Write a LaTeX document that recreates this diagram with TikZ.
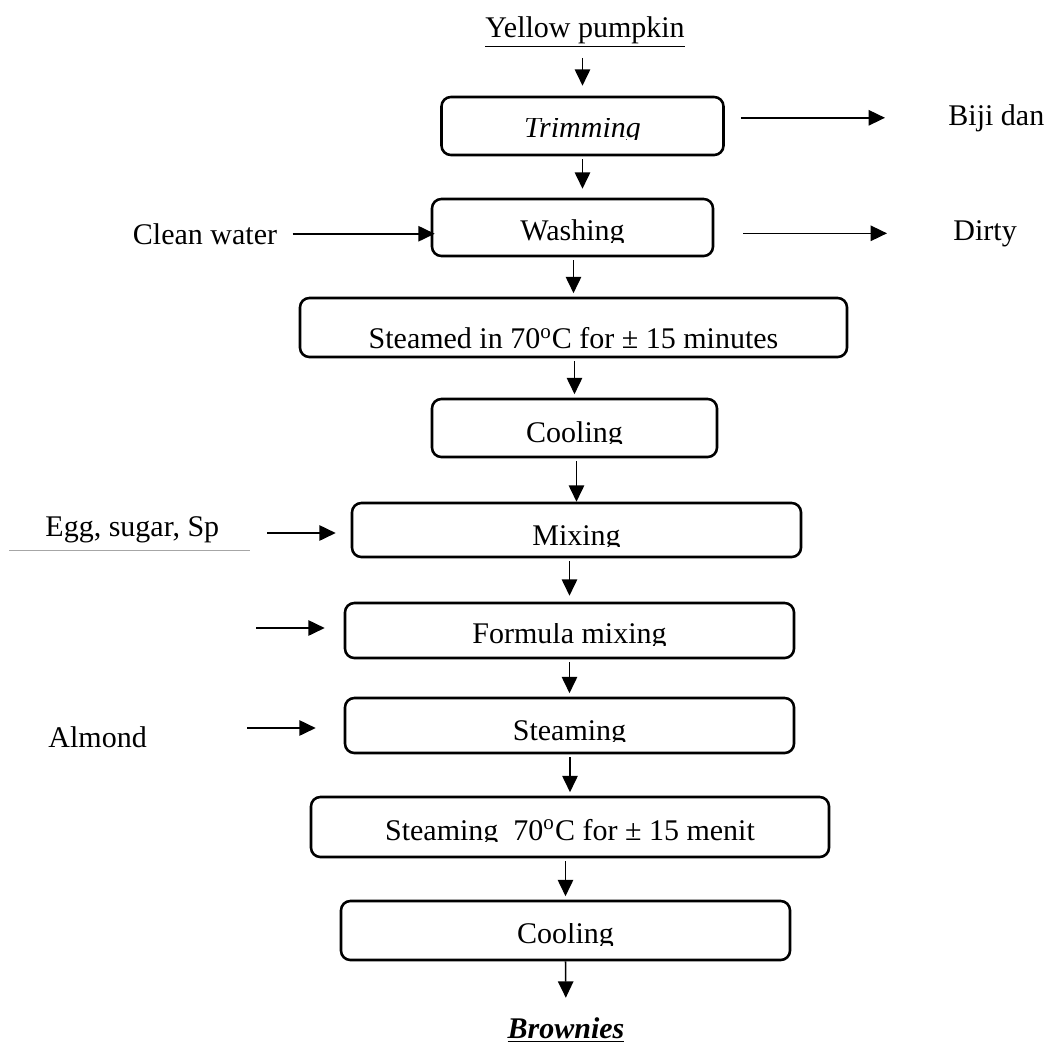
\documentclass[tikz,border=0pt]{standalone}
\usepackage{fontspec}
\setmainfont{Liberation Serif}
\usepackage{adjustbox}
\usetikzlibrary{arrows.meta}
\newcommand{\cutoff}[1]{\clipbox{0pt {\depth-0.06em} 0pt 0pt}{#1}}

\begin{document}
\begin{tikzpicture}[x=0.015cm,y=-0.015cm,
  every node/.style={inner sep=0pt,font=\fontsize{12.8}{15}\selectfont},
  procbox/.style={draw,line width=1.1pt,rounded corners=4pt,text height=12pt,text depth=0pt},
  flow/.style={-{Triangle[length=7pt,width=6.6pt]},line width=0.65pt,shorten <=1.2pt,shorten >=1.5pt}]
\useasboundingbox (0,0) rectangle (1044,1044);
\node[anchor=base] (pump) at (585,37) {\underline{Yellow pumpkin}};
\node[procbox,minimum width=4.23cm,minimum height=0.87cm,text height=10.2pt] (trim) at (582.5,126) {\cutoff{\textit{Trimming}}};
\node[procbox,minimum width=4.215cm,minimum height=0.855cm,text height=11pt] (wash) at (572.5,227.5) {\cutoff{Washing}};
\node[procbox,minimum width=8.205cm,minimum height=0.885cm,text height=18pt] (steamed) at (573.5,327.5) {\cutoff{Steamed in 70\textsuperscript{o}C for ± 15 minutes}};
\node[procbox,minimum width=4.275cm,minimum height=0.87cm] (cool) at (574.5,428) {\cutoff{Cooling}};
\node[procbox,minimum width=6.735cm,minimum height=0.81cm,text height=12.8pt] (mix) at (576.5,530) {\cutoff{Mixing}};
\node[procbox,minimum width=6.735cm,minimum height=0.825cm,text height=11.5pt] (frm) at (569.5,630.5) {\cutoff{Formula mixing}};
\node[procbox,minimum width=6.735cm,minimum height=0.825cm,text height=12.4pt] (steam) at (569.5,725.5) {\cutoff{Steaming}};
\node[procbox,minimum width=7.77cm,minimum height=0.9cm,text height=11.1pt] (steamhot) at (570,827) {\cutoff{Steaming~~70\textsuperscript{o}C for ± 15 menit}};
\node[procbox,minimum width=6.735cm,minimum height=0.885cm,text height=11.5pt] (coolend) at (565.5,930.5) {\cutoff{Cooling}};
\node[anchor=base] (brw) at (566,1038) {\underline{\textbf{\textit{Brownies}}}};
\node[anchor=base] (clean) at (205,244) {Clean water};
\node[anchor=base west] (egg) at (45,536) {Egg, sugar, Sp};
\node[anchor=base west] (alm) at (48,747) {Almond};
\node[anchor=base west] (biji) at (948,125) {Biji dan};
\node[anchor=base west] (dirty) at (953,240) {Dirty};
\coordinate (eggin) at (267,533);
\coordinate (frmin) at (256,628);
\coordinate (almin) at (247,728);
\draw[gray!70,line width=0.4pt] (9,550) -- (250,550);
% main line
\draw[flow,shorten <=0.14cm,shorten >=0.15cm] (trim.north |- pump.south) -- (trim.north);
\draw[flow,shorten >=0.135cm] (trim.south) -- (trim.south |- wash.north);
\draw[flow] (steamed.north |- wash.south) -- (steamed.north);
\draw[flow] (cool.north |- steamed.south) -- (cool.north);
\draw[flow,shorten >=0pt] (mix.north |- cool.south) -- (mix.north);
\draw[flow,shorten >=0.09cm] (frm.north |- mix.south) -- (frm.north);
\draw[flow] (steam.north |- frm.south) -- (steam.north);
\draw[flow] (steamhot.north |- steam.south) -- (steamhot.north);
\draw[flow] (coolend.north |- steamhot.south) -- (coolend.north);
\draw[flow,shorten <=0pt,shorten >=0.285cm] (coolend.south) -- (brw.north);
% side inputs and outputs
\draw[flow,shorten <=0.225cm,shorten >=-0.06cm] (clean.east) -- (wash.west |- clean.east);
\draw[flow,shorten <=0pt,shorten >=0.225cm] (eggin) -- (mix.west |- eggin);
\draw[flow,shorten <=0pt,shorten >=0.285cm] (frmin) -- (frm.west |- frmin);
\draw[flow,shorten <=0pt,shorten >=0.42cm] (almin) -- (steam.west |- almin);
\draw[flow,shorten <=0.24cm,shorten >=0.945cm] (trim.east |- biji.west) -- (biji.west);
\draw[flow,shorten <=0.435cm,shorten >=0.99cm] (wash.east |- dirty.west) -- (dirty.west);
\end{tikzpicture}
\end{document}
